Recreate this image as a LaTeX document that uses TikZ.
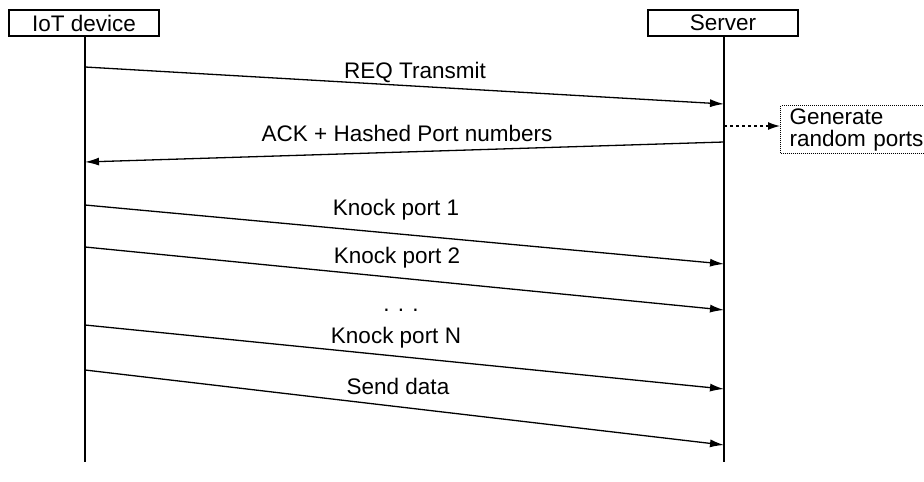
\documentclass[tikz,border=0pt]{standalone}
\usepackage{fontspec}
\setmainfont{Liberation Sans}
\usetikzlibrary{arrows.meta}
\begin{document}
\begin{tikzpicture}[x=1pt,y=-1pt,
  font=\fontsize{22.5}{22}\selectfont,
  actor/.style={draw, line width=1.3pt, minimum width=150pt, minimum height=26pt, inner sep=0pt},
  life/.style={line width=1.3pt},
  msg/.style={line width=1.3pt, -{Latex[length=14pt,width=8pt]}},
  lbl/.style={inner sep=0pt}]
\useasboundingbox (0,0) rectangle (924,482);
\node[actor] (iot) at (84,23) {IoT device};
\node[actor] (server) at (723,23) {Server};
\coordinate (iotend) at (85,462);
\coordinate (srvend) at (724,462);
\draw[life] (iot.south -| iotend) -- (iotend);
\draw[life] (server.south -| srvend) -- (srvend);
% message anchors
\coordinate (i1) at (85,67);   \coordinate (s1) at (724,104);
\coordinate (s2) at (724,142); \coordinate (i2) at (85,162);
\coordinate (sg) at (724,126);
\coordinate (i3) at (85,205);  \coordinate (s3) at (724,264);
\coordinate (i4) at (85,247);  \coordinate (s4) at (724,310);
\coordinate (i5) at (85,325);  \coordinate (s5) at (724,389);
\coordinate (i6) at (85,370);  \coordinate (s6) at (724,445);
\draw[msg] (i1) -- (s1);
\draw[msg] (s2) -- (i2);
\draw[msg] (i3) -- (s3);
\draw[msg] (i4) -- (s4);
\draw[msg] (i5) -- (s5);
\draw[msg] (i6) -- (s6);
\node[lbl] (l1) at (415,72) {REQ Transmit};
\node[lbl] (l2) at (407,133) {ACK + Hashed Port numbers};
\node[lbl] (l3) at (396,210) {Knock port 1};
\node[lbl] (l4) at (397,258) {Knock port 2};
\node[lbl] (l5) at (401,310) {. . .};
\node[lbl] (l6) at (396,338) {Knock port N};
\node[lbl] (l7) at (398,386) {Send data};
\node[draw, dash pattern=on 1pt off 1pt, line width=1pt, anchor=north west, minimum width=170pt, minimum height=48pt,
  inner xsep=9pt, inner ysep=2pt, text width=152pt, align=left] (gen) at (780,105)
  {Generate\\random ports};
\draw[line width=1.3pt, dash pattern=on 3pt off 3pt, -{Latex[length=12pt,width=8pt]}] (sg) -- (sg -| gen.west);
\end{tikzpicture}
\end{document}
